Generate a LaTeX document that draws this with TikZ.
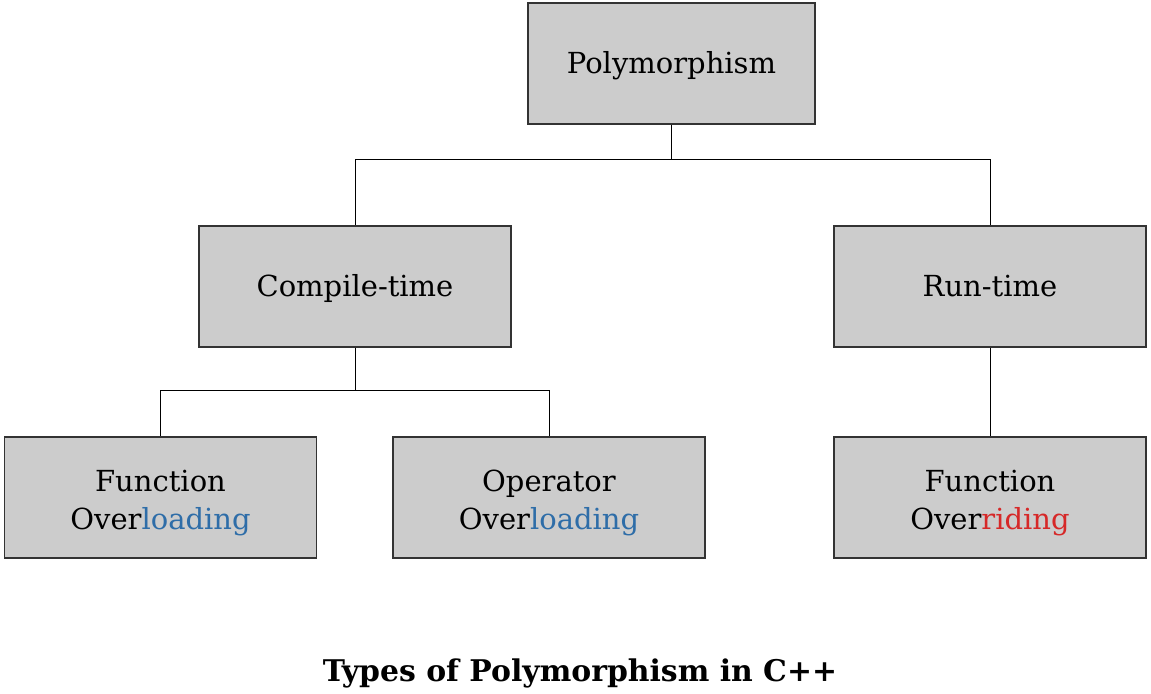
\documentclass[tikz,border=0pt]{standalone}
\usepackage{fontspec}
\setmainfont{DejaVu Serif}
\definecolor{boxgray}{HTML}{CCCCCC}
\definecolor{boxline}{HTML}{333333}
\definecolor{loadblue}{HTML}{2E6DA8}
\definecolor{ridered}{HTML}{D62828}
\tikzset{
  typebox/.style={draw=boxline, fill=boxgray, line width=0.6pt,
    minimum width=6.24cm, minimum height=2.42cm, inner sep=0pt,
    align=center, font=\fontsize{16.5}{21.5}\selectfont},
  oneline/.style={text height=1.2em, text depth=0.1em},
  link/.style={draw=black, line width=0.55pt}
}
\newcommand{\lift}{\rule{0pt}{1.1em}}

\begin{document}
\begin{tikzpicture}
  \useasboundingbox (0, 0) rectangle (23.02, -13.88);
  \node [typebox, oneline, minimum width=5.74cm] (poly) at (13.43, -1.27) {Polymorphism};
  \node [typebox, oneline] (compile) at (7.10, -5.73) {Compile-time};
  \node [typebox, oneline] (run) at (19.80, -5.73) {Run-time};
  \node [typebox] (funcload) at (3.21, -9.95) {\lift Function\\Over\textcolor{loadblue}{loading}};
  \node [typebox] (opload) at (10.98, -9.95) {\lift Operator\\Over\textcolor{loadblue}{loading}};
  \node [typebox] (funcride) at (19.80, -9.95) {\lift Function\\Over\textcolor{ridered}{riding}};
  \node [font=\fontsize{17}{20}\selectfont\bfseries] (caption) at (11.6, -13.46) {Types of Polymorphism in C++};
  % tree lines
  \draw [link] (poly.south) -- ++(0, -0.70) -| (compile.north);
  \draw [link] (poly.south) -- ++(0, -0.70) -| (run.north);
  \draw [link] (compile.south) -- ++(0, -0.86) -| (funcload.north);
  \draw [link] (compile.south) -- ++(0, -0.86) -| (opload.north);
  \draw [link] (run.south) -- (funcride.north);
\end{tikzpicture}
\end{document}
